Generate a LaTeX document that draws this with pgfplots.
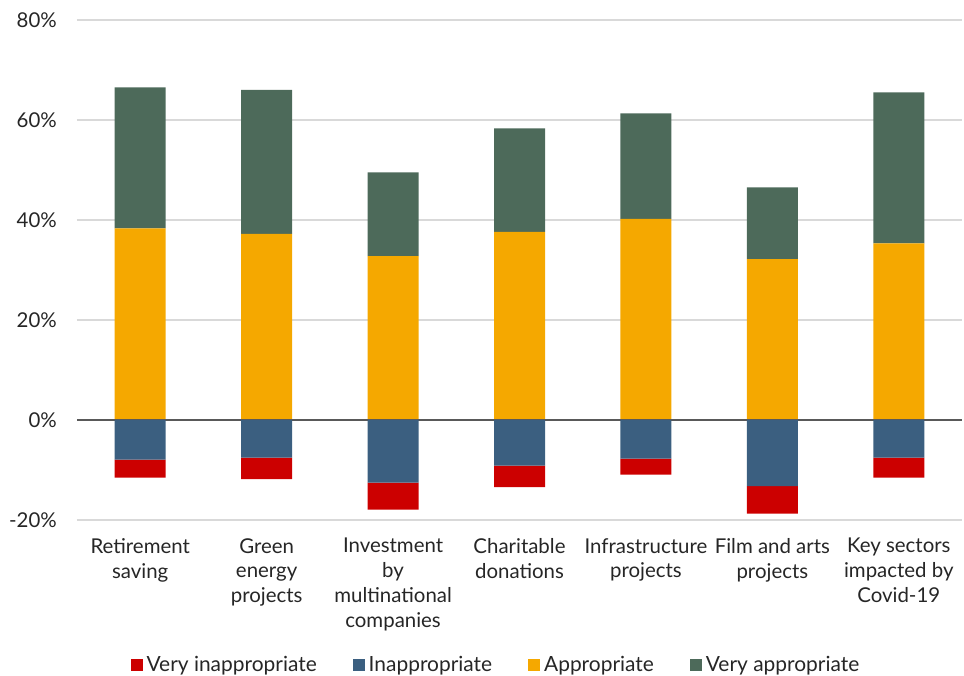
\documentclass[border=0pt]{standalone}
\usepackage{pgfplots}
\pgfplotsset{compat=1.18}
\usepackage{pgfplotstable}
\usepackage{fontspec}
\setmainfont{Lato}
\definecolor{cRed}{HTML}{CC0000}
\definecolor{cBlue}{HTML}{3B5F80}
\definecolor{cOrange}{HTML}{F5A800}
\definecolor{cGreen}{HTML}{4D6A5A}
\definecolor{cGrid}{HTML}{D9D9D9}

\pgfplotstableread{
x appr vappr inappr vinappr
0 38.3 28.2 -7.9 -3.6
1 37.2 28.8 -7.5 -4.3
2 32.8 16.7 -12.5 -5.4
3 37.6 20.7 -9.1 -4.3
4 40.2 21.1 -7.7 -3.2
5 32.2 14.3 -13.2 -5.5
6 35.3 30.2 -7.5 -4.0
}\data

\pgfplotsset{common/.style={
  scale only axis, width=885bp, height=500bp,
  xmin=-0.5, xmax=6.5, ymin=-20, ymax=80,
  ybar stacked, bar width=51bp,
  axis line style={draw=none}, major tick length=0pt,
}}

\begin{document}
\begin{tikzpicture}
\begin{axis}[common,
  ytick={-20,0,20,40,60,80},
  yticklabels={-20\%,0\%,20\%,40\%,60\%,80\%},
  ymajorgrids, major grid style={cGrid, line width=1.2bp},
  xtick={0,...,6},
  xticklabels={{Retirement\\saving},{Green\\energy\\projects},{Investment\\by\\multinational\\companies},{Charitable\\donations},{Infrastructure\\projects},{Film and arts\\projects},{Key sectors\\impacted by\\Covid-19}},
  yticklabel style={anchor=east, inner sep=0pt, xshift=-20bp, font=\fontsize{20.5}{24}\selectfont, text=black!85},
  xticklabel style={anchor=north, inner sep=0pt, yshift=-18bp, align=center, font=\fontsize{20.5}{25}\selectfont, text=black!85},
  legend columns=4,
  legend image code/.code={\fill[#1] (0bp,-6bp) rectangle (12bp,6bp); \path (14bp,0bp);},
  legend style={at={(0.4734,-0.29)}, anchor=center, draw=none, fill=none,
    font=\fontsize{21}{24}\selectfont, text=black!85,
    /tikz/every even column/.append style={column sep=34bp}},
  legend cell align=left,
]
\addlegendimage{fill=cRed, draw=none}
\addlegendimage{fill=cBlue, draw=none}
\addplot[fill=cOrange, draw=none] table[x=x,y=appr]{\data};
\addplot[fill=cGreen, draw=none] table[x=x,y=vappr]{\data};
\legend{Very inappropriate, Inappropriate, Appropriate, Very appropriate}
\end{axis}
\begin{axis}[common, hide axis]
\addplot[fill=cBlue, draw=none] table[x=x,y=inappr]{\data};
\addplot[fill=cRed, draw=none] table[x=x,y=vinappr]{\data};
\draw[line width=1.3bp, color=black!65] (rel axis cs:0,0.2) -- (rel axis cs:1,0.2);
\end{axis}
\pgfresetboundingbox
\path ([xshift=-77bp,yshift=-155bp]current axis.south west) rectangle ([xshift=2bp,yshift=20bp]current axis.north east);
\end{tikzpicture}
\end{document}
